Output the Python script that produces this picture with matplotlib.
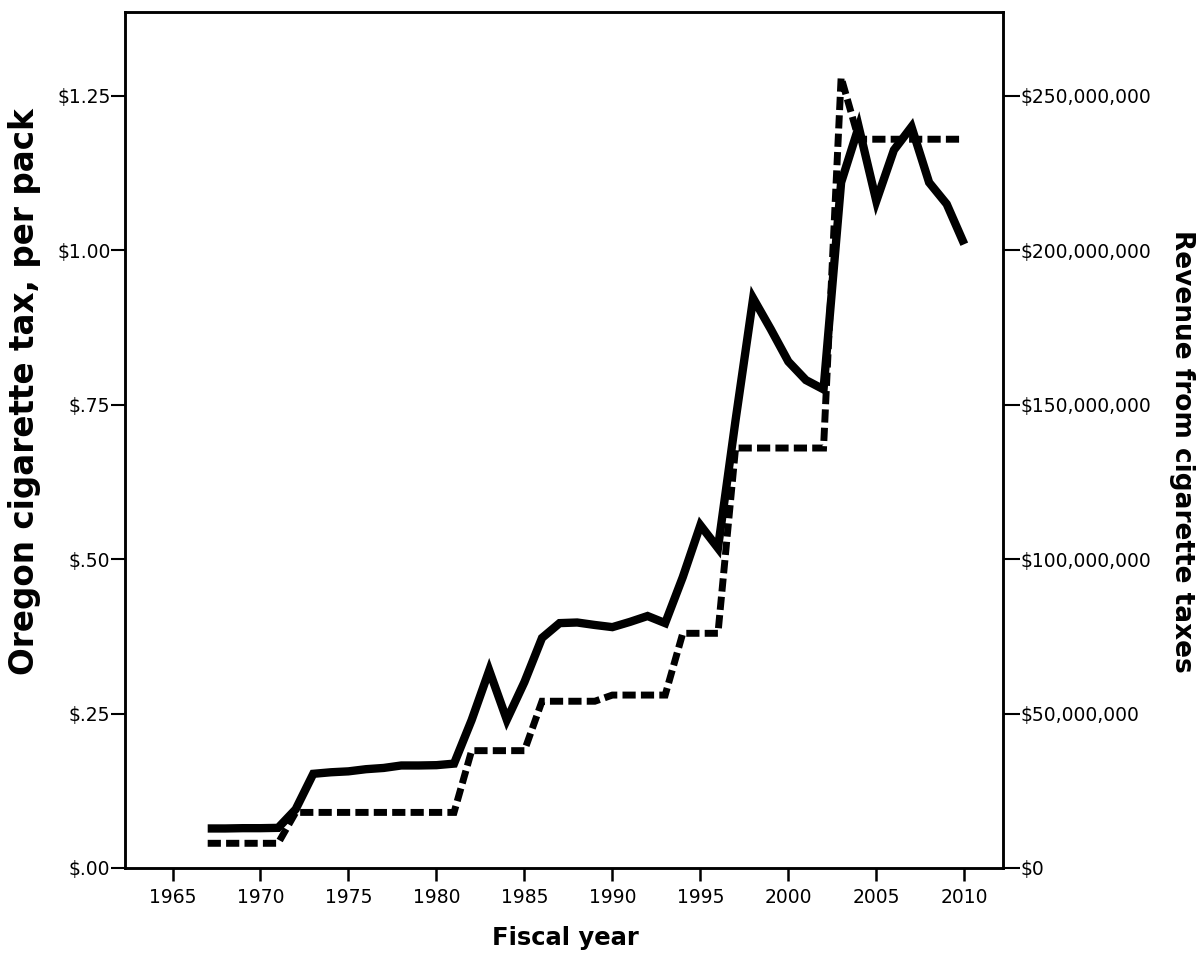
import matplotlib
matplotlib.use('Agg')
import matplotlib.pyplot as plt

# fiscal years 1967-2010
years = list(range(1967, 2011))

# Oregon cigarette tax per pack, dollars (dashed line, left axis)
tax = [0.04, 0.04, 0.04, 0.04, 0.04,
       0.09, 0.09, 0.09, 0.09, 0.09, 0.09, 0.09, 0.09, 0.09, 0.09,
       0.19, 0.19, 0.19, 0.19,
       0.27, 0.27, 0.27, 0.27,
       0.28, 0.28, 0.28, 0.28,
       0.38, 0.38, 0.38,
       0.68, 0.68, 0.68, 0.68, 0.68, 0.68,
       1.28,
       1.18, 1.18, 1.18, 1.18, 1.18, 1.18, 1.18]

# revenue from cigarette taxes, millions of dollars (solid line, right axis)
revenue = [12.8, 12.8, 12.9, 12.9, 13.0, 19.0, 30.5, 31.0, 31.3, 32.0,
           32.4, 33.2, 33.2, 33.3, 33.8, 47.9, 64.0, 48.0, 60.2, 74.5,
           79.3, 79.5, 78.7, 78.0, 79.7, 81.6, 79.3, 94.2, 111.0, 103.6,
           145.0, 184.5, 174.5, 164.0, 158.0, 155.0, 222.0, 240.0, 216.0, 232.5,
           240.0, 222.0, 215.0, 202.0]

x_ticks = [1965, 1970, 1975, 1980, 1985, 1990, 1995, 2000, 2005, 2010]
left_ticks = [0, 0.25, 0.5, 0.75, 1.0, 1.25]
left_labels = ['$.00', '$.25', '$.50', '$.75', '$1.00', '$1.25']
right_ticks = [0, 50, 100, 150, 200, 250]
right_labels = ['$0', '$50,000,000', '$100,000,000', '$150,000,000',
                '$200,000,000', '$250,000,000']

fig = plt.figure(figsize=(12.04, 9.57), dpi=100)
ax = fig.add_axes([125/1204, 1 - 868/957, 878/1204, 856/957])
ax2 = ax.twinx()

# tax, dashed
ax.plot(years, tax, color='black', lw=5, dashes=(1.9, 0.75),
        dash_capstyle='butt', dash_joinstyle='miter')
# revenue, solid
ax2.plot(years, revenue, color='black', lw=6, solid_joinstyle='miter',
         solid_capstyle='butt')

ax.set_xlim(1962.3, 2012.2)
ax.set_ylim(0, 1.386)
ax2.set_ylim(0, 277.2)

ax.set_xticks(x_ticks)
ax.set_yticks(left_ticks)
ax.set_yticklabels(left_labels)
ax2.set_yticks(right_ticks)
ax2.set_yticklabels(right_labels)

ax.tick_params(axis='x', length=9.5, width=1.8, pad=5, labelsize=13.5)
ax.tick_params(axis='y', length=10, width=1.5, pad=0.5, labelsize=13.5)
ax2.tick_params(axis='y', length=12, width=1.5, pad=0.5, labelsize=13.5)

for a in (ax, ax2):
    for s in a.spines.values():
        s.set_linewidth(1.8)

ax.set_xlabel('Fiscal year', fontsize=17.5, fontweight='bold', va='center')
ax.xaxis.set_label_coords(0.501, -0.082)
ax.set_ylabel('Oregon cigarette tax, per pack', fontsize=23.5,
              fontweight='bold', va='center', ha='center')
ax.yaxis.set_label_coords(-0.114, 0.556)
ax2.set_ylabel('Revenue from cigarette taxes', fontsize=19,
               fontweight='bold', rotation=270, va='center', ha='center')
ax2.yaxis.set_label_coords(1.204, 0.487)

plt.savefig('out.png', dpi=100)
